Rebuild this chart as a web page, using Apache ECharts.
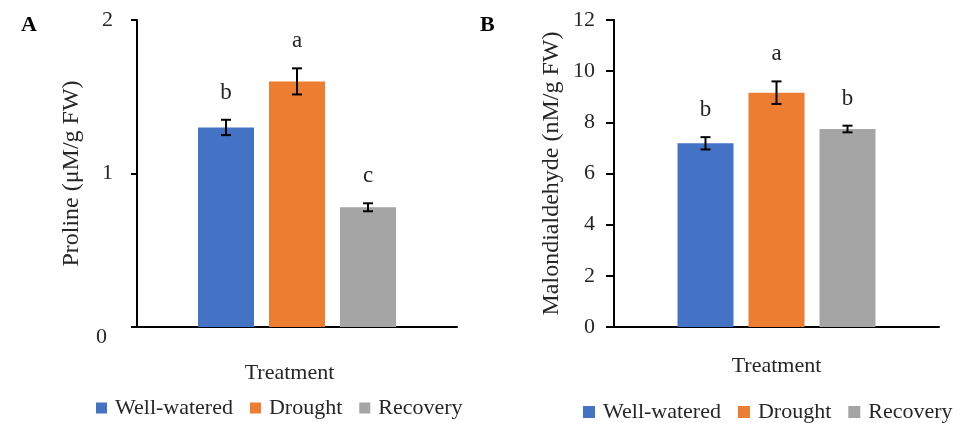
<!DOCTYPE html>
<html>
<head>
<meta charset="utf-8">
<script src="https://cdn.jsdelivr.net/npm/echarts@6/dist/echarts.min.js"></script>
<style>html,body{margin:0;padding:0;background:#fff}#c{width:960px;height:423px}</style>
</head>
<body>
<div id="c"></div>
<script>
// ---- data ----
const treatments = ['Well-watered', 'Drought', 'Recovery'];
const prolineValues = [1.30, 1.60, 0.78];
const prolineErrors = [0.05, 0.085, 0.026];
const prolineLetters = ['b', 'a', 'c'];
const mdaValues = [7.18, 9.16, 7.74];
const mdaErrors = [0.24, 0.44, 0.13];
const mdaLetters = ['b', 'a', 'b'];
const prolineTicks = [0, 1, 2];
const mdaTicks = [0, 2, 4, 6, 8, 10, 12];

// ---- style ----
const colors = ['#4472C4', '#ED7D31', '#A5A5A5'];
const FONT = 'Liberation Serif';
const TXT = '#262626';
const BAR_W = 56, BAR_GAP = 15;

const chart = echarts.init(document.getElementById('c'), null, {renderer: 'canvas'});

function errRender(values, errors, letters) {
  return function (params, api) {
    const i = api.value(3);
    const v = api.value(1), e = api.value(2);
    const off = (i - 1) * (BAR_W + BAR_GAP);
    const cx = api.coord([api.value(0), v])[0] + off;
    const yt = api.coord([api.value(0), v + e])[1];
    const yb = api.coord([api.value(0), v - e])[1];
    const cap = 5;
    const ls = {stroke: '#000', lineWidth: 2};
    return {
      type: 'group',
      children: [
        {type: 'line', shape: {x1: cx, y1: yt, x2: cx, y2: yb}, style: ls},
        {type: 'line', shape: {x1: cx - cap, y1: yt, x2: cx + cap, y2: yt}, style: ls},
        {type: 'line', shape: {x1: cx - cap, y1: yb, x2: cx + cap, y2: yb}, style: ls},
        {type: 'text', x: cx, y: yt - 27, style: {text: letters[i], fill: TXT, font: '23px "' + FONT + '"', align: 'center', verticalAlign: 'middle'}}
      ]
    };
  };
}

function errData(values, errors) {
  return values.map((v, i) => [0, v, errors[i], i]);
}

const barSeries = [];
treatments.forEach((t, i) => {
  barSeries.push({name: t, type: 'bar', xAxisIndex: 0, yAxisIndex: 0, data: [prolineValues[i]],
    barWidth: BAR_W, barGap: (BAR_GAP / BAR_W * 100) + '%', itemStyle: {color: colors[i]}, silent: true});
});
treatments.forEach((t, i) => {
  barSeries.push({name: t, type: 'bar', xAxisIndex: 1, yAxisIndex: 1, data: [mdaValues[i]],
    barWidth: BAR_W, barGap: (BAR_GAP / BAR_W * 100) + '%', itemStyle: {color: colors[i]}, silent: true});
});

const baseY = {
  type: 'value',
  axisLine: {show: true, lineStyle: {color: '#000', width: 2}},
  axisTick: {show: true, inside: false, lineStyle: {color: '#000', width: 2}},
  splitLine: {show: false},
  nameLocation: 'middle',
  nameRotate: 90,
  nameTextStyle: {fontFamily: FONT, fontSize: 24, color: TXT}
};
const baseX = {
  type: 'category',
  data: ['Treatment'],
  axisLine: {show: true, lineStyle: {color: '#000', width: 2}},
  axisTick: {show: false},
  axisLabel: {show: false},
  name: 'Treatment',
  nameLocation: 'middle',
  nameTextStyle: {fontFamily: FONT, fontSize: 22, color: TXT}
};

const option = {
  animation: false,
  backgroundColor: '#fff',
  textStyle: {fontFamily: FONT},
  title: [
    {text: 'A', left: 16, top: 9, textStyle: {fontFamily: FONT, fontSize: 22, fontWeight: 'bold', color: '#000'}},
    {text: 'B', left: 475, top: 9, textStyle: {fontFamily: FONT, fontSize: 22, fontWeight: 'bold', color: '#000'}}
  ],
  grid: [
    {left: 137, right: 503, top: 20, bottom: 96},
    {left: 614, right: 21, top: 20, bottom: 96}
  ],
  legend: [
    {data: treatments, left: 91, top: 392, width: 420, orient: 'horizontal', icon: 'rect', itemWidth: 11, itemHeight: 11, itemGap: 17,
      textStyle: {fontFamily: FONT, fontSize: 22, color: TXT, padding: [0, 0, 0, 3]}},
    {data: treatments, left: 578, top: 396, width: 380, orient: 'horizontal', icon: 'rect', itemWidth: 12, itemHeight: 12, itemGap: 17,
      textStyle: {fontFamily: FONT, fontSize: 22, color: TXT, padding: [0, 0, 0, 3]}}
  ],
  xAxis: [
    Object.assign({}, baseX, {gridIndex: 0, nameGap: 35, nameTextStyle: Object.assign({}, baseX.nameTextStyle, {padding: [0, 15, 0, 0]})}),
    Object.assign({}, baseX, {gridIndex: 1, nameGap: 28})
  ],
  yAxis: [
    Object.assign({}, baseY, {gridIndex: 0, min: prolineTicks[0], max: prolineTicks[prolineTicks.length - 1], interval: 1,
      name: 'Proline (μM/g FW)', nameGap: 53,
      axisTick: {show: true, length: 6, lineStyle: {color: '#000', width: 2}},
      axisLabel: {margin: 24, fontFamily: FONT, fontSize: 22, color: TXT,
        formatter: function (v) { return v === 0 ? '{z|0}' : String(v); },
        rich: {z: {fontFamily: FONT, fontSize: 22, color: TXT, padding: [20, 6, 0, 0]}}}}),
    Object.assign({}, baseY, {gridIndex: 1, min: mdaTicks[0], max: mdaTicks[mdaTicks.length - 1], interval: 2,
      name: 'Malondialdehyde (nM/g FW)', nameGap: 50,
      axisTick: {show: true, length: 8, lineStyle: {color: '#000', width: 2}},
      axisLabel: {margin: 19, fontFamily: FONT, fontSize: 22, color: TXT}})
  ],
  series: barSeries.concat([
    {type: 'custom', xAxisIndex: 0, yAxisIndex: 0, renderItem: errRender(prolineValues, prolineErrors, prolineLetters),
      data: errData(prolineValues, prolineErrors), encode: {x: 0, y: 1}, silent: true, z: 5},
    {type: 'custom', xAxisIndex: 1, yAxisIndex: 1, renderItem: errRender(mdaValues, mdaErrors, mdaLetters),
      data: errData(mdaValues, mdaErrors), encode: {x: 0, y: 1}, silent: true, z: 5}
  ])
};
chart.setOption(option);
</script>
</body>
</html>
